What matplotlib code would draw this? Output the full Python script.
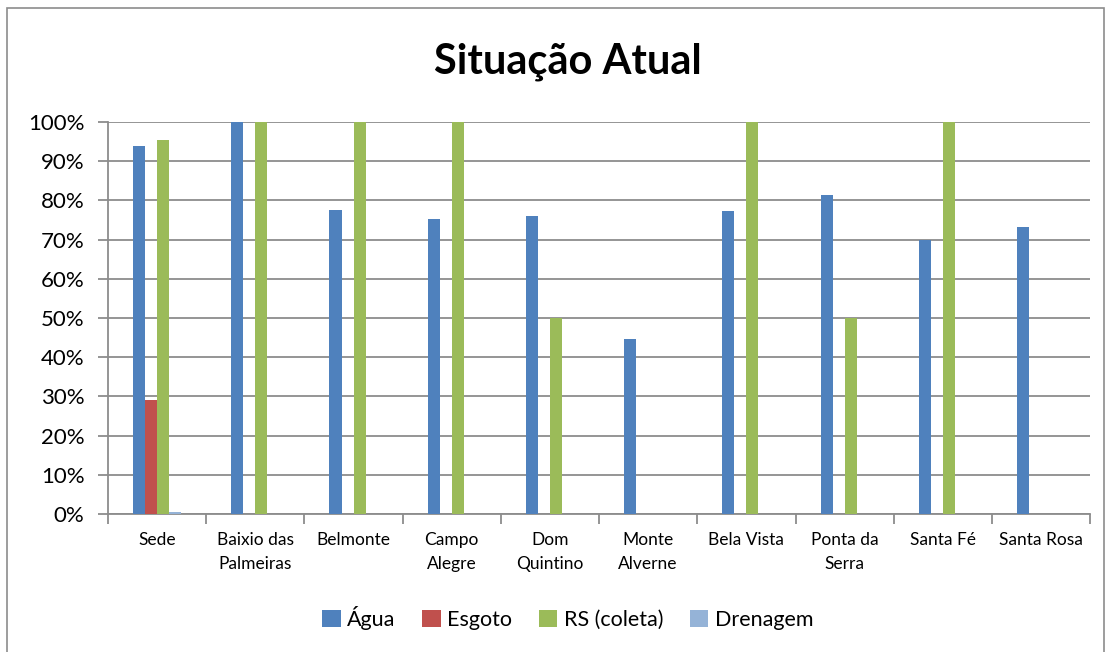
import matplotlib
matplotlib.use("Agg")
import matplotlib.pyplot as plt
import numpy as np
from matplotlib.patches import Rectangle
from matplotlib.ticker import FixedLocator, PercentFormatter

plt.rcParams['font.family'] = ['Lato', 'DejaVu Sans']

categories = ["Sede", "Baixio das\nPalmeiras", "Belmonte", "Campo\nAlegre", "Dom\nQuintino",
              "Monte\nAlverne", "Bela Vista", "Ponta da\nSerra", "Santa Fé", "Santa Rosa"]
agua = [94.0, 100, 77.5, 75.2, 76.0, 44.6, 77.4, 81.5, 70.0, 73.1]
esgoto = [29.1, 0, 0, 0, 0, 0, 0, 0, 0, 0]
rs_coleta = [95.4, 100, 100, 100, 50, 0, 100, 50, 100, 0]
drenagem = [0.5, 0, 0, 0, 0, 0, 0, 0, 0, 0]
series_names = ["Água", "Esgoto", "RS (coleta)", "Drenagem"]
colors = ["#4F81BD", "#C0504D", "#9BBB59", "#95B3D7"]

fig = plt.figure(figsize=(11.09, 6.52), dpi=100)
fig.patches.append(Rectangle((0.0065, -0.01), 0.989, 0.997, transform=fig.transFigure,
                             fill=False, edgecolor="#8C8C8C", linewidth=1.2))
ax = fig.add_axes([0.0974, 0.2117, 0.8856, 0.6012])

x = np.arange(len(categories))
w = 0.1225
for i, (vals, name, c) in enumerate(zip([agua, esgoto, rs_coleta, drenagem], series_names, colors)):
    ax.bar(x + (i - 1.5) * w, vals, width=w, color=c, label=name, zorder=3,
           edgecolor="none")

ax.set_xlim(-0.5, len(categories) - 0.5)
ax.set_ylim(0, 100)
ax.yaxis.set_major_locator(FixedLocator(np.arange(0, 101, 10)))
ax.yaxis.set_major_formatter(PercentFormatter(decimals=0))
ax.grid(axis='y', color="#8C8C8C", linewidth=1.3, zorder=0)
ax.set_axisbelow(True)
for s in ['top', 'right']:
    ax.spines[s].set_visible(False)
for s in ['left', 'bottom']:
    ax.spines[s].set_color("#8C8C8C")
    ax.spines[s].set_linewidth(1.3)
ax.tick_params(axis='y', length=7, color="#8C8C8C", width=1.3, labelsize=16, pad=10)
ax.set_xticks(x)
ax.set_xticklabels(categories, fontsize=12.5, linespacing=1.6)
ax.set_xticks(np.arange(-0.5, len(categories) + 0.5, 1), minor=True)
ax.tick_params(axis='x', which='major', length=0, pad=13)
ax.tick_params(axis='x', which='minor', length=7, color="#8C8C8C", width=1.3)

fig.text(0.512, 0.905, "Situação Atual", ha='center', va='center', fontsize=30, fontweight='bold')

leg = fig.legend(loc='center', bbox_to_anchor=(0.512, 0.052), ncol=4, frameon=False,
                 fontsize=15.5, handlelength=0.85, handleheight=0.85, handletextpad=0.3,
                 columnspacing=1.25)

fig.savefig("out.png", dpi=100)
